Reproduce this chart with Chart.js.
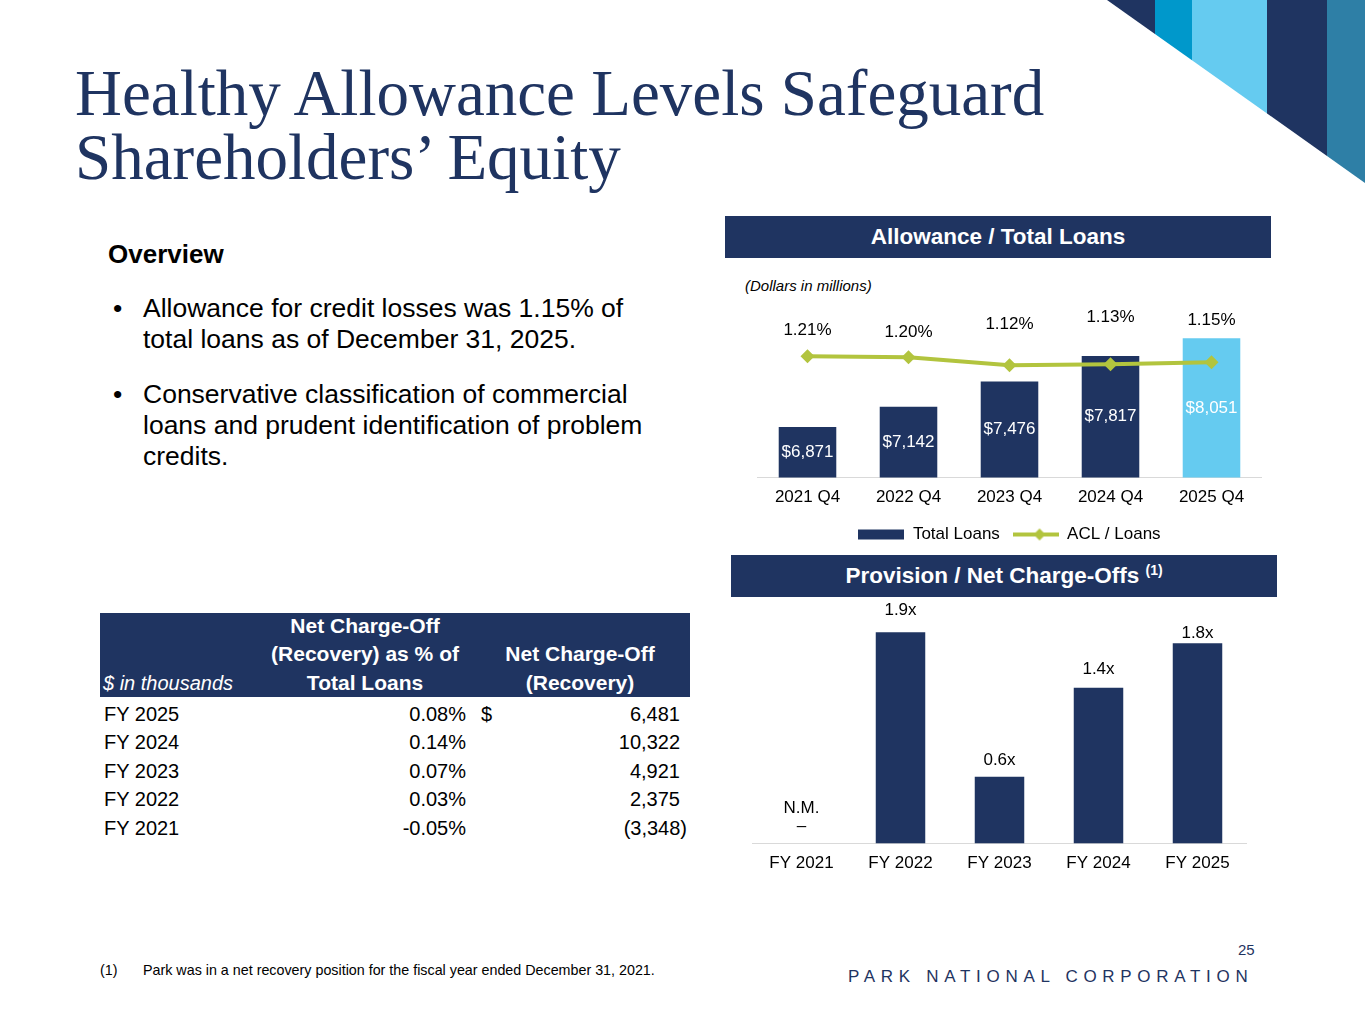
<!DOCTYPE html>
<html>
<head>
<meta charset="utf-8">
<script src="https://cdn.jsdelivr.net/npm/chart.js@4.4.1/dist/chart.umd.min.js"></script>
<style>
  body { margin: 0; background: #fff; }
  #slide { position: relative; width: 1365px; height: 1024px; overflow: hidden; background: #fff;
    font-family: "Liberation Sans", Arial, sans-serif; color: #000; }
  .abs { position: absolute; }
  .title { left: 75px; font-family: "Liberation Serif", "Times New Roman", serif; font-size: 65px;
    line-height: 62px; height: 62px; color: #1f3461; white-space: nowrap; }
  #overview { left: 108px; top: 239px; font-size: 26px; font-weight: bold; line-height: 30px; }
  .bullet { left: 113px; font-size: 26.5px; line-height: 31px; white-space: nowrap; }
  .bullet span.dot { position: absolute; left: 0; }
  .bullet div { margin-left: 30px; }
  .band { background: #1f3461; color: #fff; font-weight: bold; font-size: 22.5px; text-align: center;
    line-height: 42px; height: 42px; }
  .band sup { font-size: 14px; vertical-align: 8px; line-height: 0; }
  #dollars { left: 745px; top: 277px; font-size: 15px; font-style: italic; }
  canvas { position: absolute; }
  #tblHead { left: 100px; top: 613px; width: 590px; height: 84px; background: #1f3461; color: #fff; }
  #tblHead div { position: absolute; bottom: 0; line-height: 28.5px; font-size: 21px; font-weight: bold; text-align: center; }
  #tblBody { left: 100px; top: 700px; width: 600px; }
  .row { position: relative; height: 28.4px; line-height: 28.4px; font-size: 20px; }
  .row div { position: absolute; top: 0; }
  .note { top: 962px; font-size: 14.3px; white-space: nowrap; }
  #pageNo { left: 1238px; top: 941px; font-size: 15px; color: #1f3461; }
  #corp { left: 848px; top: 967px; font-size: 17px; letter-spacing: 5.7px; color: #1f3461; white-space: nowrap; }
</style>
</head>
<body>
<div id="slide">
  <svg class="abs" style="left:0;top:0" width="1365" height="200">
    <defs>
      <clipPath id="cut"><polygon points="1107,0 1365,0 1365,183"/></clipPath>
    </defs>
    <g clip-path="url(#cut)">
      <rect x="1100" y="0" width="55" height="200" fill="#1f3461"/>
      <rect x="1155" y="0" width="37" height="200" fill="#0098cb"/>
      <rect x="1192" y="0" width="75" height="200" fill="#65cbf0"/>
      <rect x="1267" y="0" width="60" height="200" fill="#1f3461"/>
      <rect x="1327" y="0" width="38" height="200" fill="#2e7fa6"/>
    </g>
  </svg>

  <div class="abs title" style="top:62px">Healthy Allowance Levels Safeguard</div>
  <div class="abs title" style="top:126px">Shareholders’ Equity</div>

  <div id="overview" class="abs">Overview</div>
  <div class="abs bullet" style="top:293px"><span class="dot">•</span><div>Allowance for credit losses was 1.15% of<br>total loans as of December 31, 2025.</div></div>
  <div class="abs bullet" style="top:379px"><span class="dot">•</span><div>Conservative classification of commercial<br>loans and prudent identification of problem<br>credits.</div></div>

  <div class="abs band" style="left:725px;top:216px;width:546px">Allowance / Total Loans</div>
  <div id="dollars" class="abs">(Dollars in millions)</div>
  <canvas id="loanChart" width="505" height="263" style="left:757px;top:290px"></canvas>

  <div class="abs band" style="left:731px;top:555px;width:546px">Provision / Net Charge-Offs <sup>(1)</sup></div>
  <canvas id="provChart" width="495" height="284" style="left:752px;top:600px"></canvas>

  <div id="tblHead" class="abs">
    <div style="left:3px;width:160px;text-align:left;font-weight:normal;font-style:italic;font-size:20px">$ in thousands</div>
    <div style="left:165px;width:200px">Net Charge-Off<br>(Recovery) as % of<br>Total Loans</div>
    <div style="left:380px;width:200px">Net Charge-Off<br>(Recovery)</div>
  </div>
  <div id="tblBody" class="abs"></div>

  <div class="abs note" style="left:100px">(1)</div>
  <div class="abs note" style="left:143px">Park was in a net recovery position for the fiscal year ended December 31, 2021.</div>
  <div id="pageNo" class="abs">25</div>
  <div id="corp" class="abs">PARK NATIONAL CORPORATION</div>
</div>

<script>
// 数据
const loanQuarters = ['2021 Q4', '2022 Q4', '2023 Q4', '2024 Q4', '2025 Q4'];
const totalLoans = [6871, 7142, 7476, 7817, 8051];
const aclRatio = [1.21, 1.20, 1.12, 1.13, 1.15];

const provYears = ['FY 2021', 'FY 2022', 'FY 2023', 'FY 2024', 'FY 2025'];
const provRatio = [null, 1.9, 0.6, 1.4, 1.8];

const tableYears = ['FY 2025', 'FY 2024', 'FY 2023', 'FY 2022', 'FY 2021'];
const ncoPct = [0.08, 0.14, 0.07, 0.03, -0.05];
const ncoAmount = [6481, 10322, 4921, 2375, -3348];

// 标签样式：标签离点/柱顶的高度（像素）
const aclLabelLift = [26, 25, 41, 47, 42];
const provLabelLift = [0, 22, 17, 19, 10];

const NAVY = '#1f3461';
const LIGHT = '#65cbf0';
const GREEN = '#b2c43e';
const FONT = '"Liberation Sans", Arial, sans-serif';

Chart.defaults.font.family = FONT;
Chart.defaults.font.size = 17;
Chart.defaults.color = '#000';

// 表格
const body = document.getElementById('tblBody');
tableYears.forEach((yr, i) => {
    const row = document.createElement('div');
    row.className = 'row';
    const amt = ncoAmount[i] < 0 ? '(' + Math.abs(ncoAmount[i]).toLocaleString('en-US') + ')' : ncoAmount[i].toLocaleString('en-US');
    row.innerHTML =
        '<div style="left:4px">' + yr + '</div>' +
        '<div style="right:234px">' + ncoPct[i].toFixed(2) + '%</div>' +
        (i === 0 ? '<div style="left:381px">$</div>' : '') +
        '<div style="' + (ncoAmount[i] < 0 ? 'right:13px' : 'right:20px') + '">' + amt + '</div>';
    body.appendChild(row);
});

// 数值标签插件
const valueLabels = {
    id: 'valueLabels',
    afterDatasetsDraw(chart) {
        const ctx = chart.ctx;
        chart.data.datasets.forEach((ds, i) => {
            const meta = chart.getDatasetMeta(i);
            const yScale = chart.scales[meta.yAxisID];
            const base = yScale.getPixelForValue(yScale.min);
            meta.data.forEach((el, j) => {
                const v = ds.data[j];
                const x = chart.scales.x.getPixelForValue(j);
                ctx.save();
                ctx.font = '17px ' + FONT;
                ctx.textAlign = 'center';
                ctx.textBaseline = 'middle';
                if (v === null || v === undefined) {
                    ctx.fillStyle = '#000';
                    ctx.fillText('N.M.', x, base - 35);
                    ctx.fillText('–', x, base - 17);
                } else {
                    const y = yScale.getPixelForValue(v);
                    if (ds.labelMode === 'inside') {
                        ctx.fillStyle = '#fff';
                        ctx.fillText(ds.labelFormat(v), x, (y + base) / 2);
                    } else {
                        ctx.fillStyle = '#000';
                        ctx.fillText(ds.labelFormat(v), x, y - ds.labelLift[j]);
                    }
                }
                ctx.restore();
            });
        });
    }
};

// 图例样本
function swatch(kind) {
    const c = document.createElement('canvas');
    c.width = 46;
    c.height = 14;
    const g = c.getContext('2d');
    if (kind === 'bar') {
        g.fillStyle = NAVY;
        g.fillRect(0, 2, 46, 10);
    } else {
        g.strokeStyle = GREEN;
        g.lineWidth = 4;
        g.beginPath();
        g.moveTo(0, 7);
        g.lineTo(46, 7);
        g.stroke();
        g.fillStyle = GREEN;
        g.beginPath();
        g.moveTo(27, 1);
        g.lineTo(33, 7);
        g.lineTo(27, 13);
        g.lineTo(21, 7);
        g.closePath();
        g.fill();
    }
    return c;
}

const xAxis = {
    grid: { display: false, drawTicks: false },
    border: { color: '#d9d9d9', width: 1 },
    ticks: { padding: 10, color: '#000' }
};

// 贷款总额 / ACL 图表
new Chart(document.getElementById('loanChart'), {
    data: {
        labels: loanQuarters,
        datasets: [{
            type: 'line',
            label: 'ACL / Loans',
            data: aclRatio,
            yAxisID: 'y1',
            borderColor: GREEN,
            backgroundColor: GREEN,
            pointBackgroundColor: GREEN,
            borderWidth: 4,
            pointStyle: 'rectRot',
            pointRadius: 7,
            pointBorderWidth: 0,
            tension: 0,
            order: 0,
            clip: false,
            labelMode: 'above',
            labelLift: aclLabelLift,
            labelFormat: v => v.toFixed(2) + '%'
        }, {
            type: 'bar',
            label: 'Total Loans',
            data: totalLoans,
            yAxisID: 'y',
            backgroundColor: totalLoans.map((v, i) => i === totalLoans.length - 1 ? LIGHT : NAVY),
            barPercentage: 0.57,
            categoryPercentage: 1,
            order: 1,
            labelMode: 'inside',
            labelFormat: v => '$' + v.toLocaleString('en-US')
        }]
    },
    options: {
        responsive: false,
        animation: false,
        layout: { padding: { top: 7 }, autoPadding: false },
        scales: {
            x: xAxis,
            y: { display: false, min: 6200, max: 8600 },
            y1: { display: false, min: 0, max: 1.8 }
        },
        plugins: {
            tooltip: { enabled: false },
            legend: {
                position: 'bottom',
                labels: {
                    usePointStyle: true,
                    pointStyleWidth: 46,
                    boxHeight: 14,
                    padding: 8,
                    color: '#000',
                    generateLabels: () => [
                        { text: 'Total Loans ', pointStyle: swatch('bar'), fillStyle: NAVY, strokeStyle: 'transparent', lineWidth: 0, hidden: false, datasetIndex: 1 },
                        { text: 'ACL / Loans', pointStyle: swatch('line'), fillStyle: GREEN, strokeStyle: 'transparent', lineWidth: 0, hidden: false, datasetIndex: 0 }
                    ]
                }
            }
        }
    },
    plugins: [valueLabels]
});

// 拨备 / 净核销图表
new Chart(document.getElementById('provChart'), {
    type: 'bar',
    data: {
        labels: provYears,
        datasets: [{
            label: 'Provision / Net Charge-Offs',
            data: provRatio,
            backgroundColor: NAVY,
            barPercentage: 0.5,
            categoryPercentage: 1,
            labelMode: 'above',
            labelLift: provLabelLift,
            labelFormat: v => v.toFixed(1) + 'x'
        }]
    },
    options: {
        responsive: false,
        animation: false,
        layout: { padding: { top: 10 }, autoPadding: false },
        scales: {
            x: xAxis,
            y: { display: false, min: 0, max: 2.1 }
        },
        plugins: {
            tooltip: { enabled: false },
            legend: { display: false }
        }
    },
    plugins: [valueLabels]
});
</script>
</body>
</html>
